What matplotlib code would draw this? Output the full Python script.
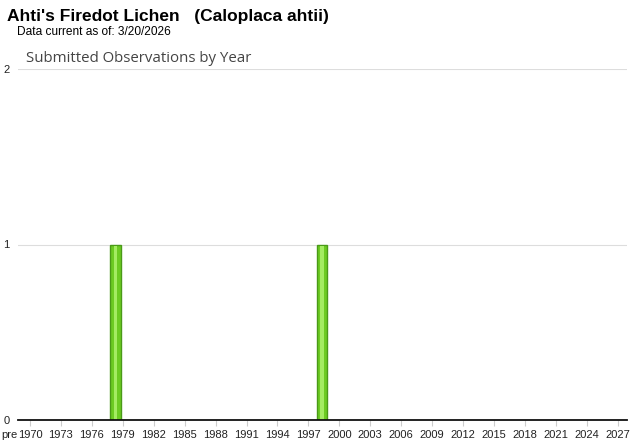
import matplotlib
matplotlib.use('Agg')
import matplotlib.pyplot as plt

# Observation data
obs_years = [1978, 1998]
obs_counts = [1, 1]
tick_years = list(range(1970, 2028, 3))
y_ticks = [0, 1, 2]

plt.rcParams['font.family'] = ['Liberation Sans', 'DejaVu Sans']

fig = plt.figure(figsize=(6.4, 4.42), dpi=100)
ax = fig.add_axes([18 / 640, 22 / 442, 609 / 640, 351 / 442])

# bars (center a bit right of the year label, like the original)
bx = [y + 0.3 for y in obs_years]
ax.bar(bx, obs_counts, width=1.0, color='#6ccb22', edgecolor='#4a9a18', linewidth=1.0, zorder=3)
ax.bar(bx, [c - 0.01 for c in obs_counts], width=0.35, color='#a4ec62', linewidth=0, zorder=4)

ax.set_xlim(1968.84, 2027.9)
ax.set_ylim(0, 2)

ax.set_yticks(y_ticks)
ax.set_yticklabels([str(v) for v in y_ticks], fontsize=8, color='#222222')
ax.tick_params(axis='y', length=0, pad=6)
ax.yaxis.grid(True, color='#dddddd', linewidth=0.8, zorder=0)

ax.set_xticks(tick_years)
ax.set_xticklabels([str(y) for y in tick_years], fontsize=8, color='#222222')
ax.tick_params(axis='x', length=4, color='#cccccc', pad=3)
ax.text(1968.0, -0.102, 'pre', fontsize=8, color='#222222', ha='center', va='baseline', clip_on=False)

for side in ['top', 'right', 'left']:
    ax.spines[side].set_visible(False)
ax.spines['bottom'].set_color('#111111')
ax.spines['bottom'].set_linewidth(1.3)
ax.spines['bottom'].set_zorder(5)

fig.text(7 / 640, 1 - 16 / 442, "Ahti's Firedot Lichen   (Caloplaca ahtii)", fontsize=12.5, fontweight='bold', va='center', ha='left')
fig.text(17 / 640, 1 - 32 / 442, 'Data current as of: 3/20/2026', fontsize=8.6, va='center', ha='left')
fig.text(26 / 640, 1 - 58 / 442, 'Submitted Observations by Year', fontsize=10.8, color='#444444',
         va='center', ha='left', family=['Open Sans', 'DejaVu Sans'])

fig.savefig('out.png', dpi=100)
